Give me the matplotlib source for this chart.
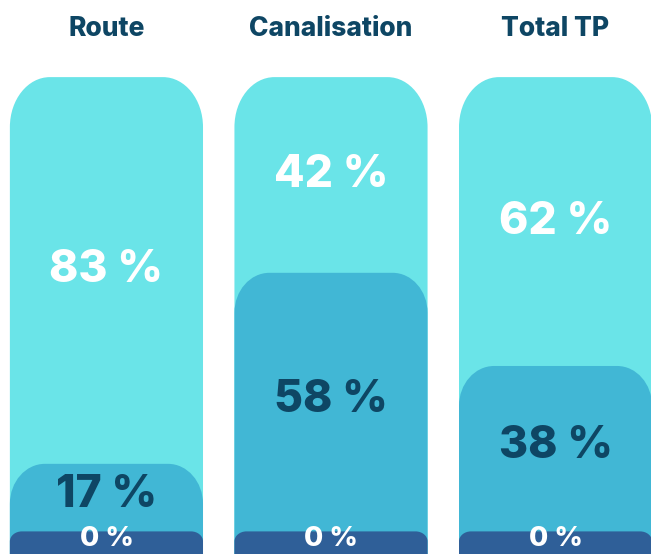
import matplotlib
matplotlib.use("Agg")
import matplotlib.pyplot as plt
from matplotlib.path import Path
from matplotlib.patches import PathPatch

categories = ["Route", "Canalisation", "Total TP"]
top_vals = [83, 42, 62]      # light cyan segment
mid_vals = [17, 58, 38]      # medium blue segment
base_vals = [0, 0, 0]        # dark blue segment

LIGHT = "#6ae4e8"
MID = "#41b7d5"
DARK = "#2f5f98"
NAVY = "#0e4664"

W, H, DPI = 651, 554, 100
fig = plt.figure(figsize=(W / DPI, H / DPI), dpi=DPI)
AX_H = 0.865
YMIN, YMAX = -2.35, 100.5
XMIN, XMAX = -0.474, 2.425
ax = fig.add_axes([0, 0.0, 1, AX_H])
ax.set_xlim(XMIN, XMAX)
ax.set_ylim(YMIN, YMAX)
ax.axis("off")

bar_w = 0.86
px_x = W / (XMAX - XMIN)
px_y = H * AX_H / (YMAX - YMIN)

K = 0.5523
BASE_H = 2.5  # visual height for the zero-valued dark segment


def rounded_top(x0, x1, y0, y1, rx_px, ry_px, color):
    rx = rx_px / px_x
    ry = min(ry_px / px_y, (y1 - y0))
    verts = [
        (x0, y0), (x0, y1 - ry),
        (x0, y1 - ry + K * ry), (x0 + rx - K * rx, y1), (x0 + rx, y1),
        (x1 - rx, y1),
        (x1 - rx + K * rx, y1), (x1, y1 - ry + K * ry), (x1, y1 - ry),
        (x1, y0), (x0, y0),
    ]
    codes = [Path.MOVETO, Path.LINETO,
             Path.CURVE4, Path.CURVE4, Path.CURVE4,
             Path.LINETO,
             Path.CURVE4, Path.CURVE4, Path.CURVE4,
             Path.LINETO, Path.CLOSEPOLY]
    ax.add_patch(PathPatch(Path(verts, codes), facecolor=color,
                           edgecolor="none", clip_on=True))


font = ["Inter", "DejaVu Sans"]
WEIGHT = 800
for i, cat in enumerate(categories):
    x0, x1 = i - bar_w / 2, i + bar_w / 2
    m = mid_vals[i]
    t = top_vals[i]
    b = base_vals[i]
    total = b + m + t
    rounded_top(x0, x1, -20, total, 40, 50, LIGHT)
    rounded_top(x0, x1, -20, b + m, 35, 40, MID)
    rounded_top(x0, x1, -20, b + BASE_H, 12, 10, DARK)

    ax.text(i, (b + m + total) / 2, f"{t} %", ha="center", va="center",
            color="white", fontsize=32, fontweight=WEIGHT, family=font)
    ax.text(i, (b + BASE_H + b + m) / 2 + 0.5, f"{m} %", ha="center",
            va="center", color=NAVY, fontsize=32, fontweight=WEIGHT,
            family=font)
    ax.text(i, b + 0.8, f"{b} %", ha="center", va="center",
            color="white", fontsize=20, fontweight=WEIGHT, family=font)
    fig.text((i - XMIN) / (XMAX - XMIN), 1 - 29 / H, cat, ha="center",
             va="center", color=NAVY, fontsize=19, fontweight=WEIGHT,
             family=font)

fig.savefig("out.png", dpi=DPI)
